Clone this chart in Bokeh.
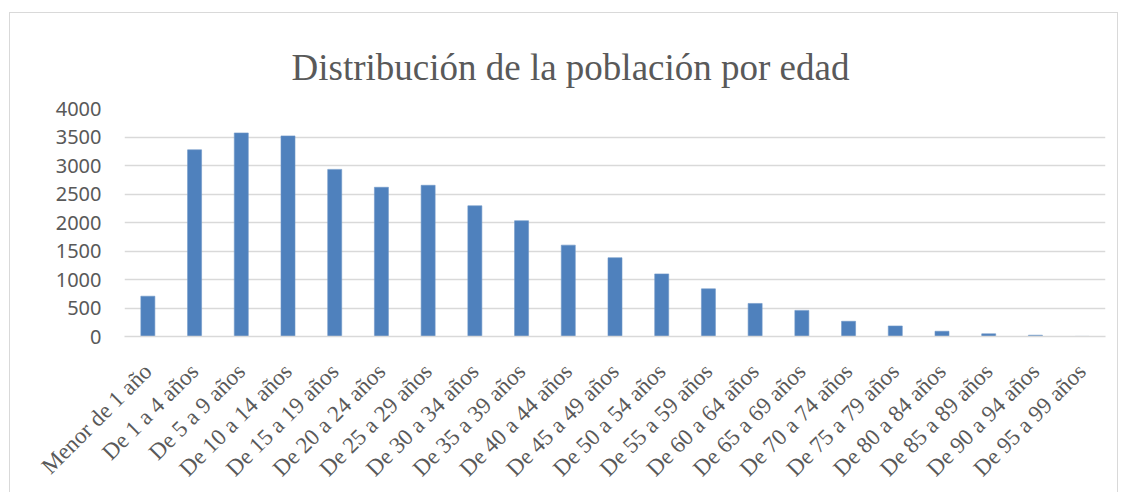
import math
from bokeh.plotting import figure
from bokeh.models import Range1d, FactorRange, SingleIntervalTicker
from bokeh.embed import file_html
from bokeh.resources import INLINE

title_text = "Distribución de la población por edad"
categories = ["Menor de 1 año", "De 1 a 4 años", "De 5 a 9 años", "De 10 a 14 años",
              "De 15 a 19 años", "De 20 a 24 años", "De 25 a 29 años", "De 30 a 34 años",
              "De 35 a 39 años", "De 40 a 44 años", "De 45 a 49 años", "De 50 a 54 años",
              "De 55 a 59 años", "De 60 a 64 años", "De 65 a 69 años", "De 70 a 74 años",
              "De 75 a 79 años", "De 80 a 84 años", "De 85 a 89 años", "De 90 a 94 años",
              "De 95 a 99 años"]
values = [707, 3275, 3571, 3519, 2932, 2618, 2653, 2293, 2031, 1603, 1382, 1098,
          836, 580, 458, 267, 185, 92, 47, 23, 2]
y_max = 4000
y_step = 500

p = figure(x_range=FactorRange(factors=categories, range_padding=0),
           y_range=Range1d(0, y_max),
           width=1109, height=480, output_backend="svg", toolbar_location=None,
           min_border_left=115, min_border_right=13, min_border_top=96, min_border_bottom=154,
           title=title_text, margin=(12, 0, 0, 9))
p.styles = {"box-shadow": "inset 1px 1px 0 #d9d9d9, inset -1px 0 0 #d9d9d9"}

p.vbar(x=categories, top=values, width=0.3, fill_color="#4f81bd", line_color="#6f97c8", line_width=0.6)

p.outline_line_color = None
p.background_fill_color = "white"
p.border_fill_color = None

p.title.text_font = "Liberation Serif"
p.title.text_font_size = "37px"
p.title.text_font_style = "normal"
p.title.text_color = "#595959"
p.title.align = "left"
p.title.offset = 167
p.title.standoff = 42

p.xgrid.visible = False
p.ygrid.grid_line_color = "#d9d9d9"
p.ygrid.grid_line_width = 1.5

p.yaxis.ticker = SingleIntervalTicker(interval=y_step)
p.yaxis.axis_line_color = None
p.yaxis.major_tick_line_color = None
p.yaxis.minor_tick_line_color = None
p.yaxis.major_label_text_font = "Noto Sans"
p.yaxis.major_label_text_font_size = "20px"
p.yaxis.major_label_text_color = "#595959"
p.yaxis.major_label_standoff = 17

p.xaxis.axis_line_color = "#d9d9d9"
p.xaxis.axis_line_width = 1.5
p.xaxis.major_tick_line_color = None
p.xaxis.minor_tick_line_color = None
p.xaxis.major_label_orientation = math.pi / 4
p.xaxis.major_label_text_font = "Liberation Serif"
p.xaxis.major_label_text_font_size = "23px"
p.xaxis.major_label_text_color = "#595959"
p.xaxis.major_label_standoff = 25

open("out.html", "w").write(file_html(p, INLINE))
